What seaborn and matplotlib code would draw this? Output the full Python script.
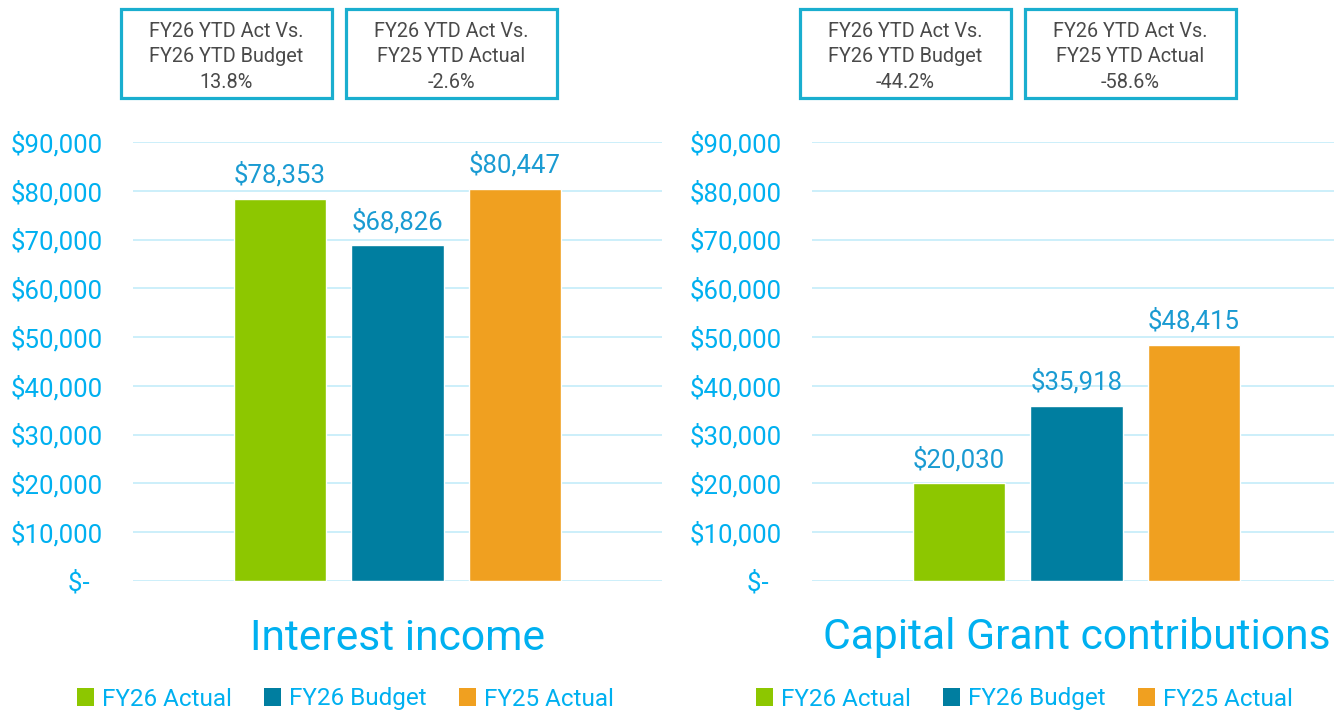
import pandas as pd
import matplotlib.pyplot as plt
import seaborn as sns
from matplotlib.patches import Rectangle, Patch
from matplotlib.ticker import FuncFormatter

series = ['FY26 Actual', 'FY26 Budget', 'FY25 Actual']
interest_income = [78353, 68826, 80447]
capital_grants = [20030, 35918, 48415]
chart_titles = ['Interest income', 'Capital Grant contributions']
vs_budget = ['13.8%', '-44.2%']
vs_prior = ['-2.6%', '-58.6%']
palette = ['#8DC700', '#007EA0', '#F0A020']

cyan = '#00B0F0'
label_blue = '#1A9BD2'
box_edge = '#1AAECF'
box_text = '#4A4A4A'

sns.set_theme(style='white')
plt.rcParams['font.family'] = ['Roboto', 'DejaVu Sans']

data = pd.DataFrame({
    'series': series * 2,
    'value': interest_income + capital_grants,
    'chart': [chart_titles[0]] * 3 + [chart_titles[1]] * 3,
})

fig = plt.figure(figsize=(13.34, 7.13), dpi=100)
W, H = 1334, 713
ax_left = [133, 812]
ax_w = 529
ax_bottom = 581
ax_top = 142


def money(v, pos=None):
    if v == 0:
        return '$-  '
    return f'${v:,.0f}'


for i, title in enumerate(chart_titles):
    ax = fig.add_axes([ax_left[i] / W, 1 - ax_bottom / H, ax_w / W, (ax_bottom - ax_top) / H])
    sub = data[data['chart'] == title]
    sns.barplot(data=sub, x='series', y='value', hue='series', palette=palette,
                order=series, hue_order=series, width=0.79, legend=False,
                dodge=False, saturation=1, ax=ax)
    ax.set_xlim(-1.25, 3.25)
    ax.set_ylim(0, 90000)
    ax.set_yticks(range(0, 90001, 10000))
    ax.yaxis.set_major_formatter(FuncFormatter(money))
    ax.grid(axis='y', color='#C8EEFA', linewidth=1.3)
    ax.set_axisbelow(True)
    ax.set_xticks([])
    ax.set_xlabel('')
    ax.set_ylabel('')
    for s in ax.spines.values():
        s.set_visible(False)
    ax.tick_params(axis='y', length=0, pad=22, labelsize=18.5, labelcolor=cyan)
    for c in ax.containers:
        ax.bar_label(c, labels=[f'${v:,.0f}' for v in c.datavalues],
                     padding=8, fontsize=18.5, color=label_blue)

    cx = ax_left[i] + ax_w / 2
    fig.text(cx / W, 1 - 638 / H, title, ha='center', va='center',
             fontsize=30.7, color=cyan)

    # variance boxes
    box_x = [ax_left[i] - 12, ax_left[i] + 213]
    texts = [f'FY26 YTD Act Vs.\nFY26 YTD Budget\n{vs_budget[i]}',
             f'FY26 YTD Act Vs.\nFY25 YTD Actual\n{vs_prior[i]}']
    for bx, t in zip(box_x, texts):
        fig.add_artist(Rectangle((bx / W, 1 - 98 / H), 211 / W, 89 / H,
                                 transform=fig.transFigure, fill=False,
                                 edgecolor=box_edge, linewidth=2.3))
        fig.text((bx + 105.5) / W, 1 - 57 / H, t, ha='center', va='center',
                 fontsize=14.3, color=box_text, linespacing=1.46)

    handles = [Patch(facecolor=c, edgecolor='none') for c in palette]
    fig.legend(handles, series, loc='center', bbox_to_anchor=((cx - 52) / W, 1 - 699 / H),
               ncol=3, frameon=False, fontsize=17.5, labelcolor=cyan,
               handlelength=0.7, handleheight=0.7, handletextpad=0.35,
               columnspacing=1.3)

plt.savefig('out.png', dpi=100)
